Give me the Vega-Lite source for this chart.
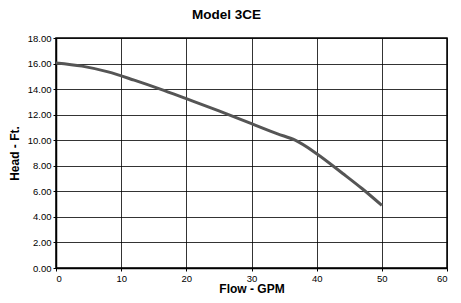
{
  "$schema": "https://vega.github.io/schema/vega-lite/v6.json",
  "width": 391,
  "height": 230,
  "autosize": "none",
  "padding": {"left": 56, "top": 38, "right": 14, "bottom": 35},
  "background": "white",
  "title": {"text": "Model 3CE", "font": "Liberation Sans", "fontSize": 13.5, "fontWeight": "bold", "color": "black", "offset": 12, "anchor": "middle", "dx": -25},
  "config": {"view": {"stroke": "black", "strokeWidth": 1.5}},
  "data": {"values": [
    {"flow": 0, "head": 16.05},
    {"flow": 4, "head": 15.8},
    {"flow": 8, "head": 15.35},
    {"flow": 12, "head": 14.7},
    {"flow": 16, "head": 14.0},
    {"flow": 20, "head": 13.25},
    {"flow": 25, "head": 12.3},
    {"flow": 30, "head": 11.3},
    {"flow": 34, "head": 10.5},
    {"flow": 36.7, "head": 10.0},
    {"flow": 40, "head": 8.95},
    {"flow": 44, "head": 7.4},
    {"flow": 47, "head": 6.2},
    {"flow": 50, "head": 4.9}
  ]},
  "mark": {"type": "line", "color": "#555555", "strokeWidth": 3, "interpolate": "monotone"},
  "encoding": {
    "x": {"field": "flow", "type": "quantitative", "title": "Flow - GPM",
      "scale": {"domain": [0, 60], "nice": false},
      "axis": {"values": [0,10,20,30,40,50,60], "labelFont": "Liberation Sans", "labelFontSize": 9.5, "labelColor": "black",
        "titleFont": "Liberation Sans", "titleFontSize": 12, "titleFontWeight": "bold", "titleColor": "black", "titlePadding": 1,
        "domainColor": "black", "domainWidth": 1.5, "tickColor": "black", "tickSize": 3, "gridColor": "black", "gridWidth": 0.8, "gridOpacity": 1, "labelPadding": 2}},
    "y": {"field": "head", "type": "quantitative", "title": "Head - Ft.",
      "scale": {"domain": [0, 18], "nice": false},
      "axis": {"values": [0,2,4,6,8,10,12,14,16,18], "format": ".2f", "labelFont": "Liberation Sans", "labelFontSize": 9.5, "labelColor": "black",
        "titleFont": "Liberation Sans", "titleFontSize": 12, "titleFontWeight": "bold", "titleColor": "black", "titlePadding": 6,
        "domainColor": "black", "domainWidth": 1.5, "tickColor": "black", "tickSize": 3, "gridColor": "black", "gridWidth": 0.8, "gridOpacity": 1, "labelPadding": 2}}
  }
}
